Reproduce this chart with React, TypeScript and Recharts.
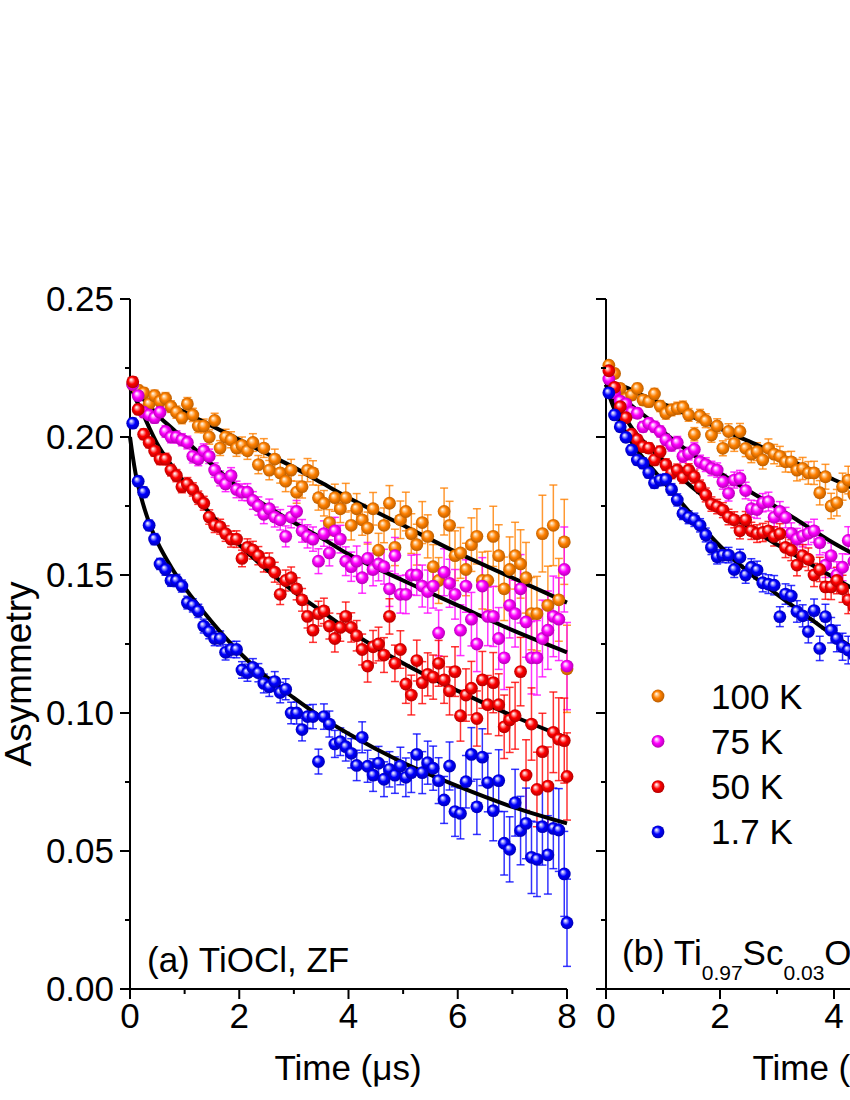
import React from 'react';
import { ComposedChart, Scatter, Line, XAxis, YAxis, ErrorBar } from 'recharts';

const FONT = '"Liberation Sans", Arial, Helvetica, sans-serif';

// ---------- Panel (a): TiOCl, ZF ----------
const timesA = [
  0.05, 0.15, 0.25, 0.35, 0.45, 0.55, 0.65, 0.75, 0.85, 0.95,
  1.05, 1.15, 1.25, 1.35, 1.45, 1.55, 1.65, 1.75, 1.85, 1.95,
  2.05, 2.15, 2.25, 2.35, 2.45, 2.55, 2.65, 2.75, 2.85, 2.95,
  3.05, 3.15, 3.25, 3.35, 3.45, 3.55, 3.65, 3.75, 3.85, 3.95,
  4.05, 4.15, 4.25, 4.35, 4.45, 4.55, 4.65, 4.75, 4.85, 4.95,
  5.05, 5.15, 5.25, 5.35, 5.45, 5.55, 5.65, 5.75, 5.85, 5.95,
  6.05, 6.15, 6.25, 6.35, 6.45, 6.55, 6.65, 6.75, 6.85, 6.95,
  7.05, 7.15, 7.25, 7.35, 7.45, 7.55, 7.65, 7.75, 7.85, 7.95, 8.0,
];
const orangeA = [
  0.219, 0.217, 0.216, 0.212, 0.215, 0.213, 0.214, 0.211, 0.209, 0.207,
  0.212, 0.208, 0.204, 0.204, 0.200, 0.206, 0.196, 0.200, 0.199, 0.196,
  0.197, 0.195, 0.198, 0.190, 0.196, 0.188, 0.192, 0.187, 0.184, 0.188,
  0.180, 0.182, 0.188, 0.187, 0.178, 0.176, 0.169, 0.178, 0.174, 0.178,
  0.168, 0.174, 0.170, 0.167, 0.174, 0.159, 0.168, 0.176, 0.160, 0.170,
  0.173, 0.165, 0.161, 0.169, 0.164, 0.153, 0.148, 0.173, 0.168, 0.157,
  0.158, 0.152, 0.161, 0.164, 0.148, 0.148, 0.164, 0.157, 0.145, 0.152,
  0.157, 0.154, 0.149, 0.136, 0.136, 0.165, 0.139, 0.168, 0.141, 0.162, 0.116,
];
const magentaA = [
  0.219, 0.215, 0.209, 0.208, 0.207, 0.209, 0.202, 0.200, 0.200, 0.199,
  0.198, 0.193, 0.192, 0.195, 0.193, 0.188, 0.185, 0.183, 0.186, 0.181,
  0.180, 0.180, 0.177, 0.175, 0.172, 0.174, 0.171, 0.170, 0.164, 0.171,
  0.173, 0.166, 0.164, 0.163, 0.155, 0.165, 0.158, 0.166, 0.163, 0.155,
  0.153, 0.155, 0.149, 0.156, 0.152, 0.154, 0.153, 0.145, 0.157, 0.143,
  0.143, 0.150, 0.150, 0.146, 0.144, 0.146, 0.129, 0.151, 0.147, 0.143,
  0.130, 0.146, 0.134, 0.125, 0.146, 0.135, 0.135, 0.127, 0.120, 0.139,
  0.136, 0.145, 0.133, 0.120, 0.120, 0.127, 0.130, 0.135, 0.134, 0.152, 0.117,
];
const redA = [
  0.220, 0.210, 0.201, 0.198, 0.195, 0.192, 0.192, 0.188, 0.186, 0.182,
  0.183, 0.181, 0.178, 0.176, 0.171, 0.168, 0.1675, 0.165, 0.163, 0.163,
  0.156, 0.160, 0.159, 0.157, 0.1545, 0.1545, 0.151, 0.143, 0.148, 0.149,
  0.145, 0.141, 0.135, 0.130, 0.136, 0.137, 0.1315, 0.127, 0.131, 0.135,
  0.131, 0.128, 0.123, 0.117, 0.124, 0.125, 0.121, 0.135, 0.118, 0.123,
  0.1105, 0.1065, 0.119, 0.111, 0.114, 0.113, 0.118, 0.112, 0.108, 0.115,
  0.099, 0.1065, 0.109, 0.098, 0.112, 0.103, 0.111, 0.103, 0.095, 0.0975,
  0.099, 0.115, 0.0775, 0.096, 0.0723, 0.086, 0.0735, 0.093, 0.0905, 0.090, 0.077,
];
const blueA = [
  0.205, 0.184, 0.180, 0.168, 0.163, 0.154, 0.152, 0.148, 0.148, 0.146,
  0.140, 0.139, 0.137, 0.1315, 0.1295, 0.127, 0.127, 0.122, 0.123, 0.123,
  0.1156, 0.1146, 0.1165, 0.1146, 0.1107, 0.1095, 0.1114, 0.1074, 0.1086, 0.100,
  0.100, 0.094, 0.0987, 0.0987, 0.0824, 0.0987, 0.096, 0.0888, 0.0896, 0.0878,
  0.0854, 0.081, 0.0912, 0.0807, 0.0775, 0.0818, 0.076, 0.0796, 0.0775, 0.0808,
  0.0767, 0.0784, 0.085, 0.0784, 0.082, 0.080, 0.0755, 0.0685, 0.0808, 0.0643,
  0.0636, 0.0751, 0.085, 0.066, 0.084, 0.0748, 0.0646, 0.0755, 0.0528, 0.0506,
  0.0675, 0.0574, 0.060, 0.0477, 0.047, 0.0588, 0.0486, 0.0582, 0.0576, 0.0417, 0.024,
];
const errA = [
  0.0018, 0.0018, 0.0019, 0.0019, 0.0020, 0.0020, 0.0021, 0.0021, 0.0022, 0.0022,
  0.0023, 0.0024, 0.0024, 0.0025, 0.0026, 0.0026, 0.0027, 0.0028, 0.0029, 0.0030,
  0.0030, 0.0031, 0.0032, 0.0033, 0.0034, 0.0035, 0.0036, 0.0037, 0.0038, 0.0039,
  0.0040, 0.0041, 0.0042, 0.0044, 0.0045, 0.0046, 0.0047, 0.0049, 0.0050, 0.0052,
  0.0053, 0.0055, 0.0056, 0.0058, 0.0059, 0.0061, 0.0063, 0.0064, 0.0066, 0.0068,
  0.0070, 0.0072, 0.0074, 0.0076, 0.0078, 0.0080, 0.0083, 0.0085, 0.0087, 0.0090,
  0.0092, 0.0095, 0.0097, 0.0100, 0.0103, 0.0106, 0.0109, 0.0112, 0.0115, 0.0118,
  0.0121, 0.0124, 0.0128, 0.0131, 0.0135, 0.0139, 0.0142, 0.0146, 0.0150, 0.0154, 0.0158,
];
const fitTimesA = [0, 0.05, 0.1, 0.2, 0.35, 0.5, 0.75, 1, 1.5, 2, 2.5, 3, 3.5, 4, 5, 6, 7, 8];
const fitOrangeA = [0.219, 0.2185, 0.218, 0.217, 0.2155, 0.214, 0.2115, 0.209, 0.204, 0.199, 0.194, 0.189, 0.1835, 0.178, 0.168, 0.158, 0.149, 0.140];
const fitMagentaA = [0.219, 0.2178, 0.2165, 0.2145, 0.2115, 0.208, 0.2035, 0.199, 0.190, 0.1815, 0.175, 0.169, 0.1635, 0.1575, 0.148, 0.139, 0.130, 0.122];
const fitRedA = [0.219, 0.2165, 0.214, 0.210, 0.2035, 0.1975, 0.190, 0.1835, 0.1715, 0.161, 0.152, 0.144, 0.137, 0.130, 0.118, 0.108, 0.099, 0.091];
const fitBlueA = [0.200, 0.193, 0.187, 0.1785, 0.169, 0.162, 0.153, 0.1455, 0.133, 0.122, 0.113, 0.1055, 0.0985, 0.0925, 0.082, 0.0735, 0.066, 0.060];

// ---------- Panel (b): Ti0.97Sc0.03OCl, ZF ----------
const timesB = [
  0.05, 0.15, 0.25, 0.35, 0.45, 0.55, 0.65, 0.75, 0.85, 0.95,
  1.05, 1.15, 1.25, 1.35, 1.45, 1.55, 1.65, 1.75, 1.85, 1.95,
  2.05, 2.15, 2.25, 2.35, 2.45, 2.55, 2.65, 2.75, 2.85, 2.95,
  3.05, 3.15, 3.25, 3.35, 3.45, 3.55, 3.65, 3.75, 3.85, 3.95,
  4.05, 4.15, 4.25, 4.35,
];
const orangeB = [
  0.226, 0.223, 0.2176, 0.214, 0.2152, 0.2176, 0.2134, 0.2128, 0.2156, 0.2112,
  0.2086, 0.2098, 0.2104, 0.2108, 0.208, 0.201, 0.2076, 0.2059, 0.2007, 0.204,
  0.1959, 0.202, 0.1977, 0.202, 0.1959, 0.1938, 0.1947, 0.1917, 0.1959, 0.1938,
  0.193, 0.191, 0.191, 0.188, 0.1886, 0.187, 0.187, 0.1798, 0.1856, 0.175,
  0.1762, 0.182, 0.1844, 0.179,
];
const magentaB = [
  0.221, 0.216, 0.213, 0.212, 0.209, 0.2086, 0.2037, 0.205, 0.2037, 0.202,
  0.199, 0.197, 0.198, 0.193, 0.194, 0.1955, 0.191, 0.190, 0.1886, 0.188,
  0.1838, 0.1796, 0.1844, 0.185, 0.1806, 0.174, 0.1737, 0.1762, 0.1766, 0.1709,
  0.173, 0.1708, 0.1651, 0.163, 0.1642, 0.1651, 0.166, 0.1617, 0.1536, 0.157,
  0.150, 0.1528, 0.1625, 0.155,
];
const redB = [
  0.224, 0.218, 0.211, 0.207, 0.201, 0.199, 0.1965, 0.196, 0.1917, 0.1947,
  0.190, 0.187, 0.188, 0.1854, 0.188, 0.1856, 0.182, 0.179, 0.1757, 0.1748,
  0.1735, 0.171, 0.170, 0.166, 0.170, 0.166, 0.165, 0.1654, 0.166, 0.164,
  0.165, 0.160, 0.159, 0.1536, 0.157, 0.1557, 0.150, 0.152, 0.1457, 0.1457,
  0.148, 0.145, 0.141, 0.1385,
];
const blueB = [
  0.216, 0.208, 0.2037, 0.1999, 0.1953, 0.1917, 0.1905, 0.1871, 0.1834, 0.1844,
  0.1846, 0.181, 0.1772, 0.1723, 0.1709, 0.170, 0.168, 0.1645, 0.160, 0.1566,
  0.1572, 0.1572, 0.152, 0.1564, 0.150, 0.1528, 0.1518, 0.1472, 0.1467, 0.1463,
  0.1349, 0.1431, 0.1424, 0.1368, 0.1352, 0.1295, 0.1371, 0.1234, 0.1349, 0.130,
  0.127, 0.124, 0.1228, 0.121,
];
const errB = [
  0.0016, 0.0016, 0.0017, 0.0017, 0.0018, 0.0018, 0.0019, 0.0019, 0.0020, 0.0020,
  0.0021, 0.0021, 0.0022, 0.0022, 0.0023, 0.0024, 0.0024, 0.0025, 0.0026, 0.0026,
  0.0027, 0.0028, 0.0029, 0.0029, 0.0030, 0.0031, 0.0032, 0.0033, 0.0034, 0.0035,
  0.0036, 0.0037, 0.0038, 0.0039, 0.0040, 0.0041, 0.0042, 0.0044, 0.0045, 0.0046,
  0.0048, 0.0049, 0.0050, 0.0052,
];
const fitTimesB = [0, 0.05, 0.1, 0.2, 0.35, 0.5, 0.75, 1, 1.5, 2, 2.5, 3, 3.5, 4, 4.5];
const fitOrangeB = [0.221, 0.2205, 0.220, 0.219, 0.218, 0.2165, 0.214, 0.212, 0.2075, 0.203, 0.1985, 0.194, 0.189, 0.1845, 0.180];
const fitMagentaB = [0.220, 0.2185, 0.217, 0.2155, 0.213, 0.2105, 0.2065, 0.202, 0.194, 0.187, 0.1805, 0.1745, 0.168, 0.1615, 0.156];
const fitRedB = [0.219, 0.2165, 0.2145, 0.211, 0.2065, 0.202, 0.1965, 0.1915, 0.182, 0.174, 0.1675, 0.161, 0.155, 0.149, 0.143];
const fitBlueB = [0.219, 0.2155, 0.2125, 0.2075, 0.2015, 0.1965, 0.190, 0.184, 0.172, 0.1605, 0.151, 0.143, 0.1355, 0.128, 0.1215];

// ---------- labels / ticks ----------
const legendLabels = ['100 K', '75 K', '50 K', '1.7 K'];
const xTicks = [0, 1, 2, 3, 4, 5, 6, 7, 8];
const yTicks = [0, 0.025, 0.05, 0.075, 0.1, 0.125, 0.15, 0.175, 0.2, 0.225, 0.25];

const SERIES = [
  { key: 'orange', color: '#FF8000', light: '#FFD9AA', dark: '#B05800' },
  { key: 'magenta', color: '#FF00FF', light: '#FFC8FF', dark: '#A800A8' },
  { key: 'red', color: '#FF0000', light: '#FFC0C0', dark: '#A80000' },
  { key: 'blue', color: '#0000FF', light: '#C0C0FF', dark: '#0000A8' },
];

const build = (times: number[], vals: number[], errs: number[]) =>
  times.map((t, i) => ({ t, v: vals[i], e: errs[i] }));
const buildFit = (times: number[], vals: number[]) => times.map((t, i) => ({ t, v: vals[i] }));

const pointsA = [build(timesA, orangeA, errA), build(timesA, magentaA, errA), build(timesA, redA, errA), build(timesA, blueA, errA)];
const fitsA = [buildFit(fitTimesA, fitOrangeA), buildFit(fitTimesA, fitMagentaA), buildFit(fitTimesA, fitRedA), buildFit(fitTimesA, fitBlueA)];
const pointsB = [build(timesB, orangeB, errB), build(timesB, magentaB, errB), build(timesB, redB, errB), build(timesB, blueB, errB)];
const fitsB = [buildFit(fitTimesB, fitOrangeB), buildFit(fitTimesB, fitMagentaB), buildFit(fitTimesB, fitRedB), buildFit(fitTimesB, fitBlueB)];

const Gradients = (prefix: string) => (
  <defs>
    {SERIES.map((s) => (
      <radialGradient key={s.key} id={`${prefix}-${s.key}`} cx="0.5" cy="0.5" r="0.55" fx="0.36" fy="0.32">
        <stop offset="0%" stopColor="#FFFFFF" />
        <stop offset="15%" stopColor={s.light} />
        <stop offset="50%" stopColor={s.color} />
        <stop offset="100%" stopColor={s.dark} />
      </radialGradient>
    ))}
  </defs>
);

const ball = (id: string) => (props: any) => {
  const { cx, cy } = props;
  if (cx == null || cy == null || isNaN(cx) || isNaN(cy)) return <g />;
  return <circle cx={cx} cy={cy} r={6.4} fill={`url(#${id})`} />;
};

const XTick = (props: any) => {
  const { x, y, payload } = props;
  const v = payload.value;
  const major = Math.round(v) % 2 === 0;
  return (
    <g>
      <line x1={x} x2={x} y1={y} y2={y + (major ? 10 : 5)} stroke="#000" strokeWidth={2} />
      {major && (
        <text x={x} y={y + 39} textAnchor="middle" fontSize={35} fontFamily={FONT} fill="#000">
          {v}
        </text>
      )}
    </g>
  );
};

const makeYTick = (showLabels: boolean) => (props: any) => {
  const { x, y, payload } = props;
  const v = payload.value;
  const major = Math.round(v * 1000) % 50 === 0;
  return (
    <g>
      <line x1={x - (major ? 10 : 5)} x2={x} y1={y} y2={y} stroke="#000" strokeWidth={2} />
      {major && showLabels && (
        <text x={x - 16} y={y} dy="0.35em" textAnchor="end" fontSize={35} fontFamily={FONT} fill="#000">
          {v.toFixed(2)}
        </text>
      )}
    </g>
  );
};

const axisLineStyle = { stroke: '#000', strokeWidth: 2 };

function Panel({ prefix, points, fits, width, right, yWidth, showYLabels, children }: any) {
  return (
    <ComposedChart width={width} height={1100} margin={{ top: 299, right, bottom: 0, left: 0 }}>
      {Gradients(prefix)}
      <XAxis
        dataKey="t"
        type="number"
        domain={[0, 8]}
        ticks={xTicks}
        interval={0}
        height={111}
        tickSize={0}
        tickMargin={0}
        tickLine={false}
        axisLine={axisLineStyle}
        tick={XTick}
      />
      <YAxis
        type="number"
        domain={[0, 0.25]}
        ticks={yTicks}
        interval={0}
        width={yWidth}
        tickSize={0}
        tickMargin={0}
        tickLine={false}
        axisLine={axisLineStyle}
        tick={makeYTick(showYLabels)}
      />
      {SERIES.map((s, i) => (
        <Scatter
          key={`sc-${s.key}`}
          data={points[i]}
          dataKey="v"
          fill={s.color}
          shape={ball(`${prefix}-${s.key}`)}
          isAnimationActive={false}
        >
          <ErrorBar dataKey="e" direction="y" width={4} stroke={s.color} strokeWidth={1.5} strokeOpacity={0.8} />
        </Scatter>
      ))}
      {SERIES.map((s, i) => (
        <Line
          key={`ln-${s.key}`}
          data={fits[i]}
          dataKey="v"
          type="monotone"
          stroke="#000"
          strokeWidth={4}
          dot={false}
          activeDot={false}
          isAnimationActive={false}
        />
      ))}
      {children}
    </ComposedChart>
  );
}

export default function App() {
  const bx = 480; // page x of panel (b) chart
  return (
    <div
      style={{
        position: 'absolute',
        left: 0,
        top: 0,
        width: 850,
        height: 1100,
        overflow: 'hidden',
        background: '#fff',
        fontFamily: FONT,
      }}
    >
      <div style={{ position: 'absolute', left: 0, top: 0 }}>
        <Panel prefix="ga" points={pointsA} fits={fitsA} width={600} right={33} yWidth={130} showYLabels={true}>
          <text x={31} y={674} transform="rotate(-90 31 674)" textAnchor="middle" fontSize={37} fontFamily={FONT} fill="#000">
            Asymmetry
          </text>
          <text x={348} y={1080} textAnchor="middle" fontSize={35} fontFamily={FONT} fill="#000">
            Time (μs)
          </text>
          <text x={147} y={972} fontSize={35} fontFamily={FONT} fill="#000">
            (a) TiOCl, ZF
          </text>
        </Panel>
      </div>
      <div style={{ position: 'absolute', left: bx, top: 0 }}>
        <Panel prefix="gb" points={pointsB} fits={fitsB} width={620} right={38} yWidth={126} showYLabels={false}>
          <text x={826 - bx} y={1080} textAnchor="middle" fontSize={35} fontFamily={FONT} fill="#000">
            Time (μs)
          </text>
          <text x={622 - bx} y={965} fontSize={35} fontFamily={FONT} fill="#000">
            (b) Ti
            <tspan fontSize={21} dy={15}>0.97</tspan>
            <tspan dy={-15}>Sc</tspan>
            <tspan fontSize={21} dy={15}>0.03</tspan>
            <tspan dy={-15}>OCl, ZF</tspan>
          </text>
          {SERIES.map((s, i) => (
            <g key={`lg-${s.key}`}>
              <circle cx={658 - bx} cy={696 + i * 45.3} r={6.4} fill={`url(#gb-${s.key})`} />
              <text x={711 - bx} y={696 + i * 45.3 + 12.5} fontSize={35} fontFamily={FONT} fill="#000">
                {legendLabels[i]}
              </text>
            </g>
          ))}
        </Panel>
      </div>
    </div>
  );
}
